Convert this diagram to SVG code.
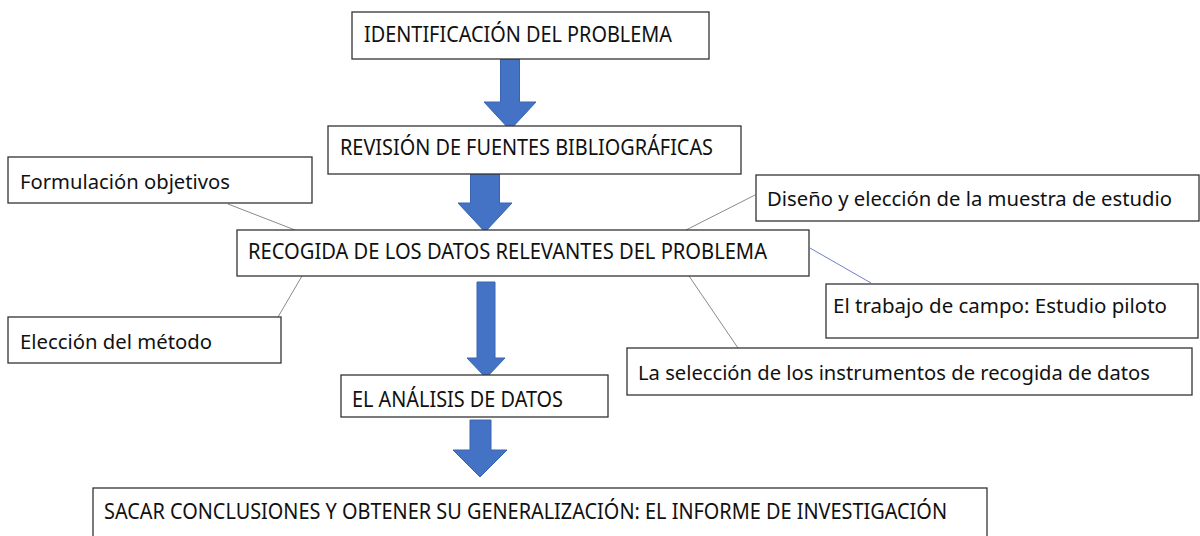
<svg xmlns="http://www.w3.org/2000/svg" width="1200" height="536" viewBox="0 0 1200 536">
<style>
.box{fill:#fff;stroke:#333;stroke-width:1.3}
.t{font-family:"Noto Sans","Open Sans",sans-serif;font-size:21px;fill:#111}
.s{font-size:20px}
.arr{fill:#4472C4;stroke:#3A64B0;stroke-width:1}
.ln{stroke:#8a8a8a;stroke-width:1;fill:none}
.lb{stroke:#6f7fc8;stroke-width:1;fill:none}
</style>
<rect width="1200" height="536" fill="#fff"/>
<g id="connectors">
<polygon class="arr" points="500.5,59 519.5,59 519.5,102 536,102 510,130 484,102 500.5,102"/>
<polygon class="arr" points="470.5,174 499.5,174 499.5,203 512,203 485,232 458,203 470.5,203"/>
<polygon class="arr" points="477,282 495,282 495,358 505,358 486,378 467,358 477,358"/>
<polygon class="arr" points="470,420 491,420 491,450 507,450 480,477 453,450 470,450"/>
<line class="ln" x1="228" y1="204" x2="295" y2="230"/>
<line class="ln" x1="302" y1="276" x2="278" y2="317"/>
<line class="ln" x1="755" y1="195" x2="686" y2="230"/>
<line class="lb" x1="810" y1="248" x2="871" y2="283"/>
<line class="ln" x1="689" y1="276" x2="738" y2="348"/>
</g>
<g id="n1"><rect class="box" x="352" y="12" width="357" height="47"/><text class="t" x="364" y="42" textLength="308" lengthAdjust="spacingAndGlyphs">IDENTIFICACIÓN DEL PROBLEMA</text></g>
<g id="n2"><rect class="box" x="328" y="126" width="413" height="48"/><text class="t" x="340" y="155" textLength="373" lengthAdjust="spacingAndGlyphs">REVISIÓN DE FUENTES BIBLIOGRÁFICAS</text></g>
<g id="n3"><rect class="box" x="8" y="157" width="304" height="46"/><text class="t s" x="20" y="189" textLength="210" lengthAdjust="spacingAndGlyphs">Formulación objetivos</text></g>
<g id="n4"><rect class="box" x="237" y="230" width="572" height="46"/><text class="t" x="248" y="259" textLength="519" lengthAdjust="spacingAndGlyphs">RECOGIDA DE LOS DATOS RELEVANTES DEL PROBLEMA</text></g>
<g id="n5"><rect class="box" x="756" y="175" width="443" height="46"/><text class="t s" x="767" y="206" textLength="405" lengthAdjust="spacingAndGlyphs">Diseño y elección de la muestra de estudio</text></g>
<g id="n6"><rect class="box" x="826" y="284" width="372" height="54"/><text class="t s" x="833" y="313" textLength="334" lengthAdjust="spacingAndGlyphs">El trabajo de campo: Estudio piloto</text></g>
<g id="n7"><rect class="box" x="8" y="317" width="273" height="46"/><text class="t s" x="20" y="349" textLength="192" lengthAdjust="spacingAndGlyphs">Elección del método</text></g>
<g id="n8"><rect class="box" x="627" y="348" width="565" height="47"/><text class="t s" x="638" y="380" textLength="512" lengthAdjust="spacingAndGlyphs">La selección de los instrumentos de recogida de datos</text></g>
<g id="n9"><rect class="box" x="341" y="375" width="267" height="42"/><text class="t" x="352" y="407" textLength="211" lengthAdjust="spacingAndGlyphs">EL ANÁLISIS DE DATOS</text></g>
<g id="n10"><rect class="box" x="93" y="488" width="894" height="60"/><text class="t" x="104" y="519" textLength="843" lengthAdjust="spacingAndGlyphs">SACAR CONCLUSIONES Y OBTENER SU GENERALIZACIÓN: EL INFORME DE INVESTIGACIÓN</text></g>
</svg>
